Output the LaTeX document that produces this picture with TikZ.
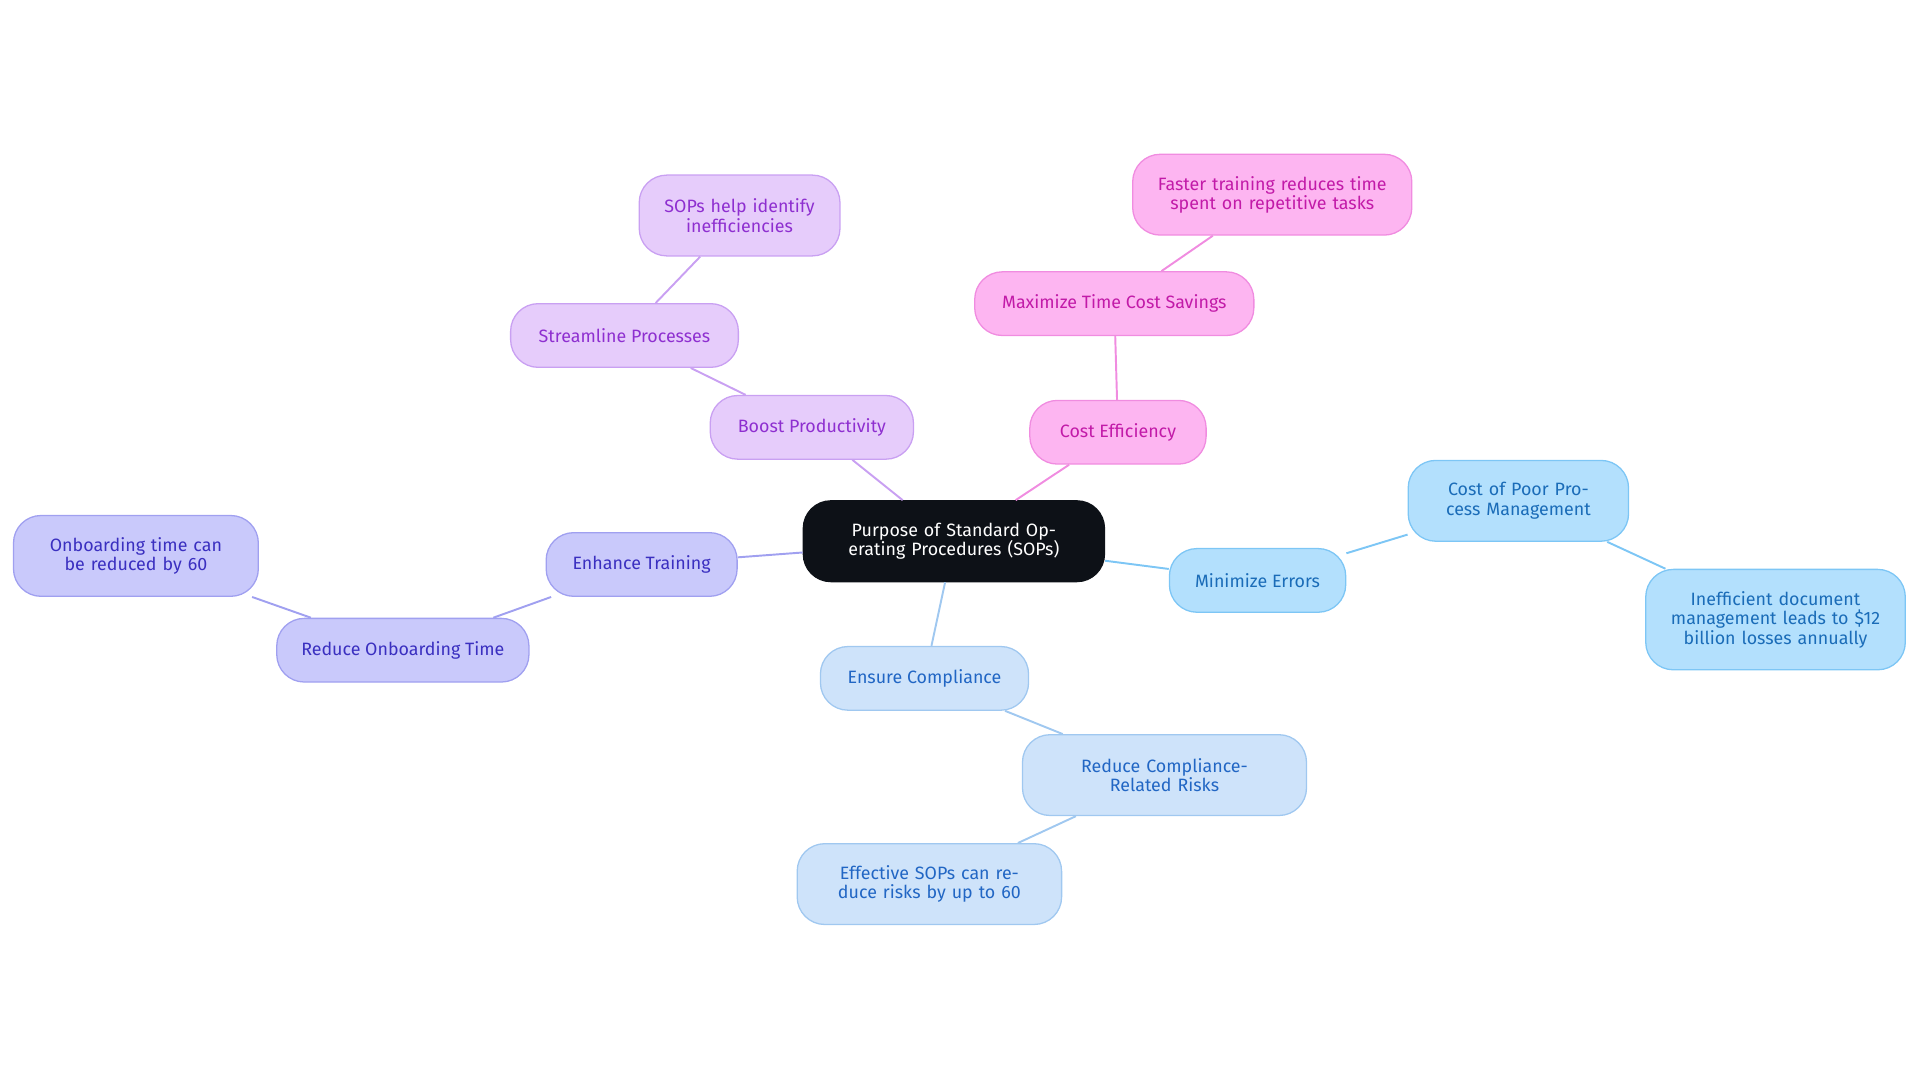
\documentclass[tikz,border=0pt]{standalone}
\usepackage{fontspec}
\setmainfont{Fira Sans}
\definecolor{puF}{HTML}{E6CCFB}\definecolor{puD}{HTML}{C9A0F2}\definecolor{puT}{HTML}{8E2FD0}
\definecolor{piF}{HTML}{FDB5F1}\definecolor{piD}{HTML}{F08CE0}\definecolor{piT}{HTML}{C21AA8}
\definecolor{lbF}{HTML}{B3E0FD}\definecolor{lbD}{HTML}{7DC6F5}\definecolor{lbT}{HTML}{1A6CB8}
\definecolor{pbF}{HTML}{CEE3FA}\definecolor{pbD}{HTML}{A0C8F0}\definecolor{pbT}{HTML}{2166C4}
\definecolor{laF}{HTML}{C9C9FB}\definecolor{laD}{HTML}{A0A0F0}\definecolor{laT}{HTML}{3A2FC0}
\definecolor{ctr}{HTML}{0D1117}
\tikzset{
  base/.style={rounded corners=0.45cm, line width=0.6pt, align=center, font=\fontsize{8.3}{9}\selectfont, inner sep=0pt},
  pu/.style={base, fill=puF, draw=puD, text=puT},
  pi/.style={base, fill=piF, draw=piD, text=piT},
  lb/.style={base, fill=lbF, draw=lbD, text=lbT},
  pb/.style={base, fill=pbF, draw=pbD, text=pbT},
  la/.style={base, fill=laF, draw=laD, text=laT},
  ed/.style={line width=0.9pt}
}
\begin{document}
\begin{tikzpicture}[x=0.02cm,y=-0.02cm]
\useasboundingbox (0,0) rectangle (1568,884);
\node[base, fill=ctr, draw=ctr, text=white, minimum width=4.92cm, minimum height=1.32cm, text width=4.4cm] (c) at (779,442) {Purpose of Standard Operating Procedures (SOPs)};
% purple
\node[pu, minimum width=3.32cm, minimum height=1.04cm] (bp) at (663,349) {Boost Productivity};
\node[pu, minimum width=3.72cm, minimum height=1.04cm] (sp) at (510,274) {Streamline Processes};
\node[pu, minimum width=3.28cm, minimum height=1.32cm, text width=2.9cm] (si) at (604,176) {SOPs help identify inefficiencies};
% pink
\node[pi, minimum width=2.88cm, minimum height=1.04cm] (ce) at (913,353) {Cost Efficiency};
\node[pi, minimum width=4.56cm, minimum height=1.04cm] (mt) at (910,248) {Maximize Time Cost Savings};
\node[pi, minimum width=4.56cm, minimum height=1.32cm, text width=4.1cm] (ft) at (1039,159) {Faster training reduces time spent on repetitive tasks};
% light blue
\node[lb, minimum width=2.88cm, minimum height=1.04cm] (me) at (1027,474) {Minimize Errors};
\node[lb, minimum width=3.6cm, minimum height=1.32cm, text width=3.1cm] (cp) at (1240,409) {Cost of Poor Process Management};
\node[lb, minimum width=4.24cm, minimum height=1.64cm, text width=3.5cm] (ie) at (1450,506) {Inefficient document management leads to \$12 billion losses annually};
% pale blue
\node[pb, minimum width=3.4cm, minimum height=1.04cm] (ec) at (755,554) {Ensure Compliance};
\node[pb, minimum width=4.64cm, minimum height=1.32cm, text width=4.1cm] (rc) at (951,633) {Reduce Compliance-Related Risks};
\node[pb, minimum width=4.32cm, minimum height=1.32cm, text width=3.7cm] (es) at (759,722) {Effective SOPs can reduce risks by up to 60};
% lavender
\node[la, minimum width=3.12cm, minimum height=1.04cm] (et) at (524,461) {Enhance Training};
\node[la, minimum width=4.12cm, minimum height=1.04cm] (ro) at (329,531) {Reduce Onboarding Time};
\node[la, minimum width=4.0cm, minimum height=1.32cm, text width=3.4cm] (ot) at (111,454) {Onboarding time can be reduced by 60};
\begin{scope}[on background layer/.style={}]
\end{scope}
\draw[ed, draw=puD] (c) -- (bp) (bp) -- (sp) (sp) -- (si);
\draw[ed, draw=piD] (c) -- (ce) (ce) -- (mt) (mt) -- (ft);
\draw[ed, draw=lbD] (c) -- (me) (me) -- (cp) (cp) -- (ie);
\draw[ed, draw=pbD] (c) -- (ec) (ec) -- (rc) (rc) -- (es);
\draw[ed, draw=laD] (c) -- (et) (et) -- (ro) (ro) -- (ot);
\end{tikzpicture}
\end{document}
